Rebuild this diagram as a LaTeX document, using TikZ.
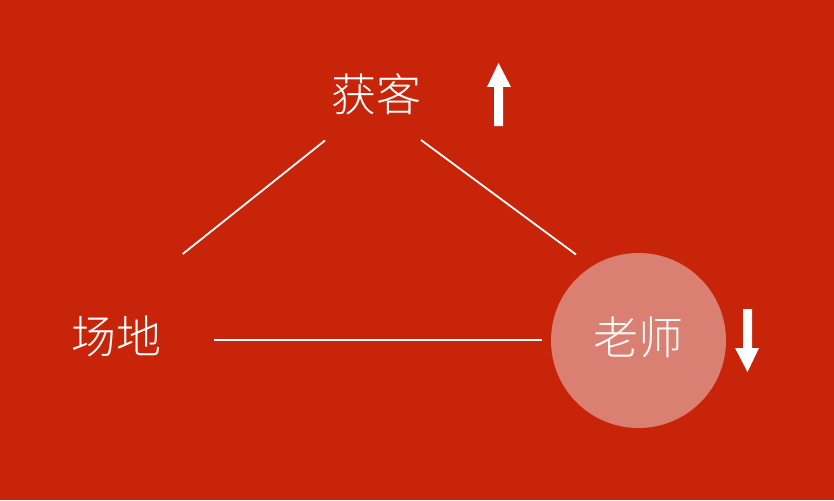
\documentclass[tikz,border=0pt]{standalone}
\usepackage{fontspec}
\newfontfamily\cjk{Noto Sans CJK SC Light}
\definecolor{bgred}{HTML}{C82409}
\definecolor{circ}{HTML}{D98073}
\tikzset{
  lbl/.style={text=white,font=\cjk\fontsize{45}{45}\selectfont,inner sep=0pt},
  edge/.style={draw=white,line width=1.8pt},
  arr/.style={fill=white,draw=none}
}
\begin{document}
\begin{tikzpicture}[x=1pt,y=-1pt]
\fill[bgred] (0,0) rectangle (834,500);
\useasboundingbox (0,0) rectangle (834,500);
\node[circle,fill=circ,minimum size=175pt,inner sep=0pt] (c) at (638.5,340.5) {};
\node[lbl] (top) at (376,94) {获客};
\node[lbl] (left) at (116.5,336.5) {场地};
\node[lbl,text=white!95!circ] (right) at (638,337) {老师};
\coordinate (l1) at (182.7,254);
\coordinate (l2) at (325,140.5);
\coordinate (r1) at (421,140);
\coordinate (r2) at (576,254.5);
\coordinate (b1) at (214,340);
\coordinate (b2) at (542,340);
\draw[edge] (l1) -- (l2);
\draw[edge] (r1) -- (r2);
\draw[edge] (b1) -- (b2);
\fill[arr] (494,126) -- (494,87) -- (487,87) -- (498.5,63) -- (511,87) -- (503,87) -- (503,126) -- cycle;
\fill[arr] (743,309) -- (743,348) -- (735,348) -- (747.5,372) -- (759,348) -- (752,348) -- (752,309) -- cycle;
\end{tikzpicture}
\end{document}
